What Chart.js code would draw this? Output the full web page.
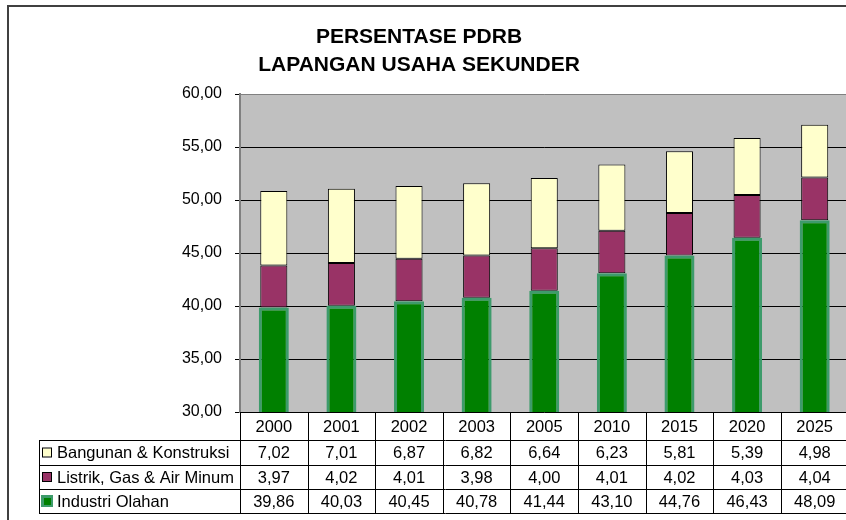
<!DOCTYPE html>
<html>
<head>
<meta charset="utf-8">
<script src="https://cdn.jsdelivr.net/npm/chart.js@4/dist/chart.umd.min.js"></script>
<style>
  html, body { margin: 0; padding: 0; background: #fff; overflow: hidden; }
  #wrap { width: 852px; height: 520px; }
</style>
</head>
<body>
<div id="wrap"><canvas id="c" width="852" height="520"></canvas></div>
<script>
// ---- data ----
const titleLines = ['PERSENTASE PDRB', 'LAPANGAN USAHA SEKUNDER'];
const years = ['2000', '2001', '2002', '2003', '2005', '2010', '2015', '2020', '2025'];
const bangunan = [7.02, 7.01, 6.87, 6.82, 6.64, 6.23, 5.81, 5.39, 4.98];
const listrik = [3.97, 4.02, 4.01, 3.98, 4.00, 4.01, 4.02, 4.03, 4.04];
const industri = [39.86, 40.03, 40.45, 40.78, 41.44, 43.10, 44.76, 46.43, 48.09];
const seriesNames = ['Bangunan & Konstruksi', 'Listrik, Gas & Air Minum', 'Industri Olahan'];
const yMin = 30, yMax = 60, yStep = 5;

// ---- styles ----
const FONT = '"Liberation Sans", Arial, sans-serif';
const C_YELLOW = '#FFFFCC', C_PURPLE = '#993366', C_GREEN = '#008000', C_GLOW = '#3D9B6B';
const fmt = v => v.toFixed(2).replace('.', ',');

const tableRows = [
  { name: seriesNames[0], values: bangunan, key: 'yellow' },
  { name: seriesNames[1], values: listrik, key: 'purple' },
  { name: seriesNames[2], values: industri, key: 'green' }
];

const decor = {
  id: 'decor',
  beforeDraw(chart) {
    const { ctx, chartArea: a } = chart;
    ctx.save();
    // outer frame
    ctx.fillStyle = '#404040';
    ctx.fillRect(7, 5, 2, 520);
    ctx.fillRect(7, 5, 860, 2);
    // plot background
    ctx.fillStyle = '#C0C0C0';
    ctx.fillRect(a.left, a.top, a.right - a.left, a.bottom - a.top);
    // title
    ctx.fillStyle = '#000';
    ctx.font = 'bold 21px ' + FONT;
    ctx.textAlign = 'center';
    ctx.textBaseline = 'middle';
    ctx.fillText(titleLines[0], 419, 37);
    ctx.fillText(titleLines[1], 419, 65);
    ctx.restore();
  },
  afterDraw(chart) {
    const { ctx, chartArea: a, scales: { x } } = chart;
    const n = years.length;
    const w = (a.right - a.left) / n;
    const headerTop = a.bottom;
    const rowLines = [a.bottom + 28, a.bottom + 53, a.bottom + 77, a.bottom + 101];
    ctx.save();
    ctx.strokeStyle = '#000';
    ctx.lineWidth = 1;
    // vertical column lines
    for (let i = 0; i <= n; i++) {
      const xx = Math.round(a.left + i * w) + 0.5;
      ctx.beginPath();
      ctx.moveTo(xx, headerTop);
      ctx.lineTo(xx, rowLines[3]);
      ctx.stroke();
    }
    // left border of label column
    ctx.beginPath();
    ctx.moveTo(39.5, rowLines[0]);
    ctx.lineTo(39.5, rowLines[3]);
    ctx.stroke();
    // horizontal row lines
    rowLines.forEach(yy => {
      ctx.beginPath();
      ctx.moveTo(39, Math.round(yy) + 0.5);
      ctx.lineTo(chart.width, Math.round(yy) + 0.5);
      ctx.stroke();
    });
    ctx.fillStyle = '#000';
    ctx.font = '16.5px ' + FONT;
    ctx.textBaseline = 'middle';
    ctx.textAlign = 'center';
    // header years
    years.forEach((yr, i) => {
      ctx.fillText(yr, x.getPixelForValue(i), (headerTop + rowLines[0]) / 2 + 1);
    });
    // rows
    tableRows.forEach((row, r) => {
      const cy = (rowLines[r] + rowLines[r + 1]) / 2 + 1;
      // legend key
      if (row.key === 'green') {
        ctx.fillStyle = C_GLOW;
        ctx.fillRect(41, cy - 7, 12, 12);
        ctx.fillStyle = C_GREEN;
        ctx.fillRect(44, cy - 4, 7, 7);
      } else {
        ctx.fillStyle = row.key === 'yellow' ? C_YELLOW : C_PURPLE;
        ctx.fillRect(43, cy - 5, 8, 8);
        ctx.strokeStyle = '#000';
        ctx.strokeRect(42.5, cy - 5.5, 9, 9);
      }
      ctx.fillStyle = '#000';
      ctx.textAlign = 'left';
      ctx.fillText(row.name, 57, cy);
      ctx.textAlign = 'center';
      row.values.forEach((v, i) => {
        ctx.fillText(fmt(v), x.getPixelForValue(i), cy);
      });
    });
    ctx.restore();
  }
};

new Chart(document.getElementById('c'), {
  type: 'bar',
  data: {
    labels: years,
    datasets: [
      { label: seriesNames[2], data: industri, backgroundColor: C_GREEN, borderColor: C_GLOW,
        borderWidth: 3, borderSkipped: false, barPercentage: 0.444, categoryPercentage: 1 },
      { label: seriesNames[1], data: listrik, backgroundColor: C_PURPLE, borderColor: '#000',
        borderWidth: 1, borderSkipped: false, barPercentage: 0.4, categoryPercentage: 1 },
      { label: seriesNames[0], data: bangunan, backgroundColor: C_YELLOW, borderColor: '#000',
        borderWidth: 1, borderSkipped: false, barPercentage: 0.4, categoryPercentage: 1 }
    ]
  },
  options: {
    responsive: false,
    animation: false,
    devicePixelRatio: 1,
    layout: { padding: { top: 94, left: 0, right: 3.5, bottom: 108 } },
    plugins: { legend: { display: false }, title: { display: false }, tooltip: { enabled: false } },
    scales: {
      x: { display: false, stacked: true },
      y: {
        stacked: true,
        min: yMin, max: yMax,
        afterFit(scale) { scale.width = 240; },
        ticks: {
          stepSize: yStep,
          color: '#000',
          font: { family: FONT, size: 16 },
          padding: 13,
          callback: v => fmt(v)
        },
        grid: {
          color: c => (c.tick && c.tick.value === yMax) ? '#808080' : '#000',
          lineWidth: 1,
          drawTicks: true,
          tickLength: 5,
          tickColor: '#000'
        },
        border: { display: true, color: '#808080', width: 2 }
      }
    }
  },
  plugins: [decor]
});
</script>
</body>
</html>
